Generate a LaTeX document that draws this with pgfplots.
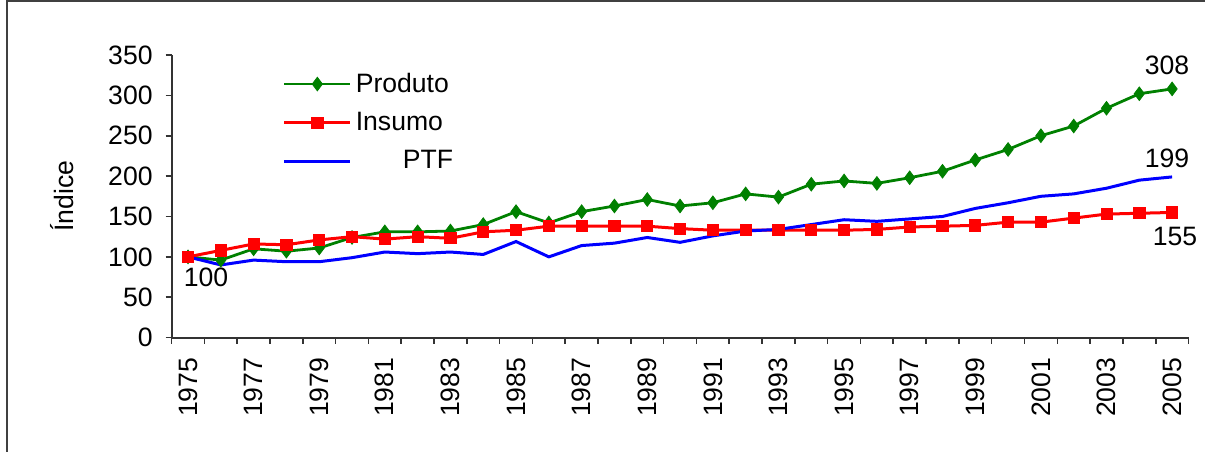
\documentclass[border=0pt]{standalone}
\usepackage{fontspec}
\setmainfont{Liberation Sans}
\usepackage{pgfplots}
\pgfplotsset{compat=1.18}
\newcommand\f{\fontsize{13.3bp}{15bp}\selectfont}
\definecolor{xlgreen}{RGB}{0,128,0}
\definecolor{xlred}{RGB}{255,0,0}
\definecolor{xlblue}{RGB}{0,0,255}
\pgfplotstableread{
year produto insumo ptf
1975 100 100 100
1976 96 108 90
1977 110 116 96
1978 107 115 94
1979 111 121 94
1980 124 125 99
1981 131 122 106
1982 131 125 104
1983 132 123 106
1984 140 131 103
1985 156 133 119
1986 142 138 100
1987 156 138 114
1988 163 138 117
1989 171 138 124
1990 163 135 118
1991 167 133 126
1992 178 133 132
1993 174 133 134
1994 190 133 140
1995 194 133 146
1996 191 134 144
1997 198 137 147
1998 206 138 150
1999 220 139 160
2000 233 143 167
2001 250 143 175
2002 262 148 178
2003 284 153 185
2004 302 154 195
2005 308 155 199
}\datatable
\begin{document}
\begin{tikzpicture}
\path (-85.85bp,-57.15bp) rectangle (517.15bp,168.9bp);
\draw[line width=0.6bp, black!75] (-82.35bp,-57.15bp) -- (-82.35bp,168.4bp) -- (517.15bp,168.4bp);
\begin{axis}[
  at={(0,0)}, anchor=south west, scale only axis,
  width=508.7bp, height=141.4bp,
  xmin=1974.5, xmax=2005.5, ymin=0, ymax=350,
  clip=false,
  axis lines=left,
  axis line style={-, line width=0.9bp, black!80},
  tick style={line width=0.8bp, black!80},
  tick align=outside,
  major tick length=3bp,
  xtick={1974.5,1975.5,...,2005.5},
  xticklabels={},
  extra x ticks={1975,1977,...,2005},
  extra x tick labels={1975,1977,1979,1981,1983,1985,1987,1989,1991,1993,1995,1997,1999,2001,2003,2005},
  extra x tick style={major tick length=0pt, tick label style={rotate=90, anchor=east, font=\f, xshift=-6.5bp}},
  ytick={0,50,...,350},
  yticklabel style={font=\f, xshift=-3bp},
  /pgf/number format/assume math mode=true,
  every axis y label/.style={at={(axis description cs:-0.1078,0.5)}, rotate=90, anchor=center, font=\f},
  ylabel={Índice},
  legend style={at={(axis description cs:0.109,0.952)}, anchor=north west, draw=none, fill=none,
    inner sep=0pt, font=\f, row sep=4.5bp, /tikz/every even column/.style={column sep=1.5bp}},
  legend cell align=left,
  legend image code/.code={\draw[mark repeat=2,mark phase=2] plot coordinates {(0bp,0bp) (16.5bp,0bp) (33bp,0bp)};},
]
\addplot[xlgreen, line width=1.4bp, mark=diamond*, mark size=3.4bp, mark options={solid, line width=0.4bp}] table[x=year,y=produto] {\datatable};
\addlegendentry{Produto}
\addplot[xlred, line width=1.5bp, mark=square*, mark size=2.8bp, mark options={solid, line width=0.4bp}] table[x=year,y=insumo] {\datatable};
\addlegendentry{Insumo}
\addplot[xlblue, line width=1.5bp, mark=none] table[x=year,y=ptf] {\datatable};
\addlegendentry{\hspace{23.5bp}PTF}
\node[anchor=base, font=\f, xshift=-2.5bp, yshift=7bp] at (axis cs:2005,308) {308};
\node[anchor=base, font=\f, xshift=-2.5bp, yshift=4.8bp] at (axis cs:2005,199) {199};
\node[anchor=base, font=\f, xshift=1.5bp, yshift=-16.5bp] at (axis cs:2005,155) {155};
\node[anchor=base, font=\f, xshift=9bp, yshift=-15bp] at (axis cs:1975,100) {100};
\end{axis}
\end{tikzpicture}
\end{document}
